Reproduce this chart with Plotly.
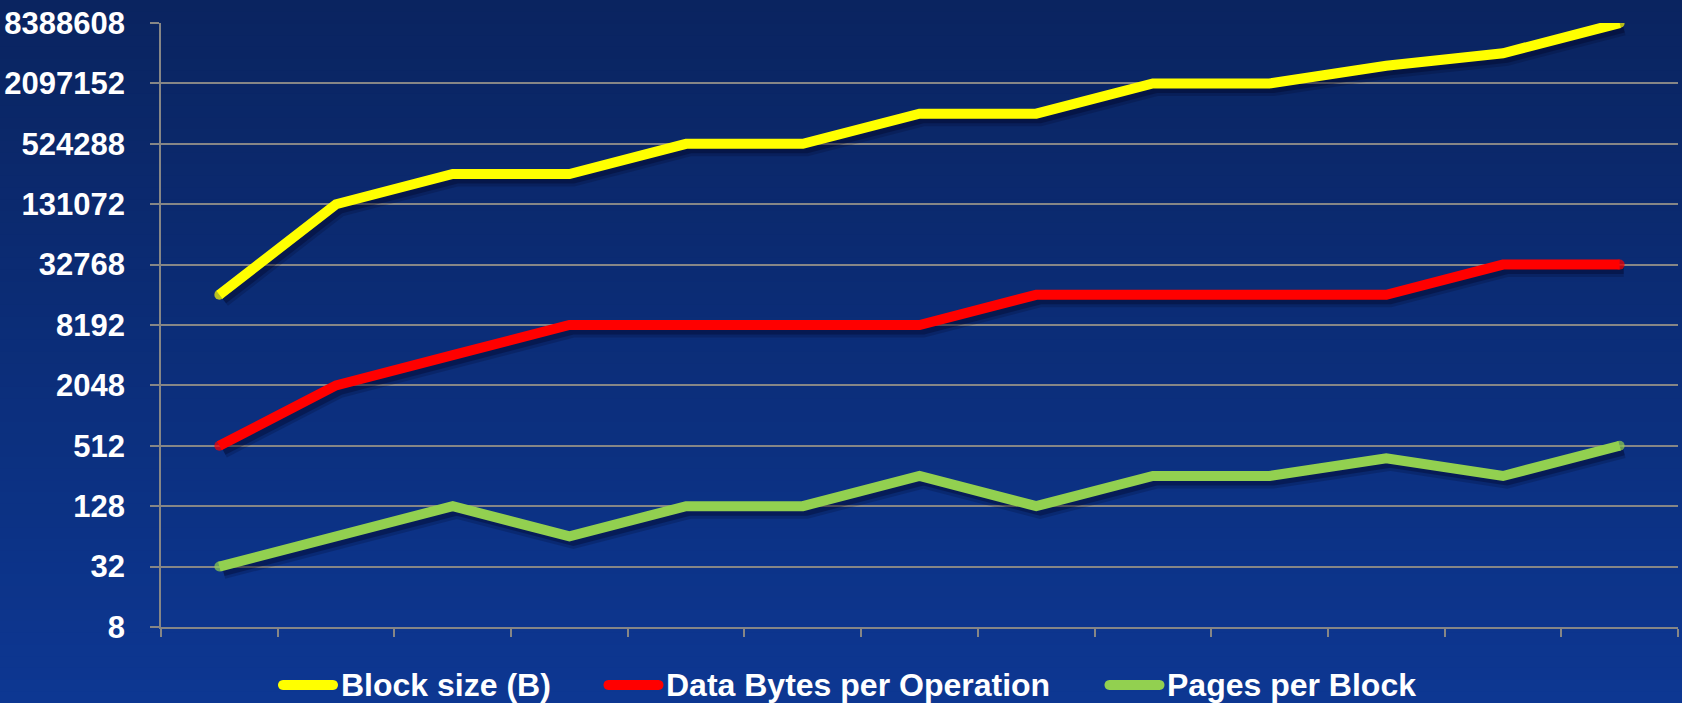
import math
import plotly.graph_objects as go

# ---------------- data ----------------
points = list(range(13))
block_size = [16384, 131072, 262144, 262144, 524288, 524288, 1048576, 1048576,
              2097152, 2097152, 3145728, 4194304, 8388608]
data_bytes = [512, 2048, 4096, 8192, 8192, 8192, 8192, 16384,
              16384, 16384, 16384, 32768, 32768]
pages_per_block = [32, 64, 128, 64, 128, 128, 256, 128, 256, 256, 384, 256, 512]
series_names = ["Block size (B)", "Data Bytes per Operation", "Pages per Block"]
y_tickvals = [8, 32, 128, 512, 2048, 8192, 32768, 131072, 524288, 2097152, 8388608]
y_ticktext = [str(v) for v in y_tickvals]

colors = ["#ffff00", "#ff0000", "#92d050"]
series = [block_size, data_bytes, pages_per_block]

# ---------------- geometry ----------------
FW, FH = 1682, 703
L, R, T, B = 161, 4, 23, 76
PW, PH = FW - L - R, FH - T - B
lo, hi = math.log10(8) - 0.0004, math.log10(8388608) + 0.0004
ppx = PW / 13.0
ppy = PH / (hi - lo)
sdx, sdy = 4, 5  # drop-shadow offset in px

fig = go.Figure()

# drop shadows: same data, shifted a few pixels right/down
for vals in series:
    sx = [p + sdx / ppx for p in points]
    sy = [v * 10 ** (-sdy / ppy) for v in vals]
    fig.add_trace(go.Scatter(x=sx, y=sy, mode="lines",
                             line=dict(color="rgba(0,0,30,0.18)", width=15),
                             hoverinfo="skip", showlegend=False))
    fig.add_trace(go.Scatter(x=sx, y=sy, mode="lines",
                             line=dict(color="rgba(0,0,30,0.30)", width=9),
                             hoverinfo="skip", showlegend=False))

# main lines (round end caps via end markers)
for vals, c, name in zip(series, colors, series_names):
    n = len(vals)
    fig.add_trace(go.Scatter(
        x=points, y=vals, mode="lines+markers", name=name,
        line=dict(color=c, width=10),
        marker=dict(color=c, size=[10] + [0] * (n - 2) + [10], line=dict(width=0)),
        showlegend=False))

# background gradient bands
shapes = []
top_c = (10, 36, 96)
bot_c = (13, 55, 146)
nb = 60
y_top = (FH - B) / PH
y_bot = -B / PH
x_left = -L / PW
x_right = (FW - L) / PW
for i in range(nb):
    f = i / (nb - 1)
    col = tuple(round(top_c[k] + (bot_c[k] - top_c[k]) * f) for k in range(3))
    y1 = y_top - (y_top - y_bot) * i / nb
    y0 = y_top - (y_top - y_bot) * (i + 1) / nb
    shapes.append(dict(type="rect", xref="paper", yref="paper", layer="below",
                       x0=x_left, x1=x_right, y0=y0 - 0.002, y1=y1,
                       fillcolor="rgb(%d,%d,%d)" % col, line=dict(width=0)))

# manual legend
legend_y_px = 685
leg_centers = [308, 633.5, 1134.5]
leg_text_x = [339, 664, 1165]
pill = "M -25,-5 H 25 C 31.7,-5 31.7,5 25,5 H -25 C -31.7,5 -31.7,-5 -25,-5 Z"
annotations = []
for cx, tx, c, name in zip(leg_centers, leg_text_x, colors, series_names):
    shapes.append(dict(type="path", xref="paper", yref="paper",
                       xsizemode="pixel", ysizemode="pixel",
                       xanchor=(cx - L) / PW, yanchor=(FH - B - legend_y_px) / PH,
                       path=pill, fillcolor=c, line=dict(width=0)))
    annotations.append(dict(xref="paper", yref="paper", x=(tx - L) / PW,
                            y=(FH - B - legend_y_px) / PH, xanchor="left", yanchor="middle",
                            text=name, showarrow=False,
                            font=dict(family="Liberation Sans, Arial", size=32, color="white",
                                      weight="bold")))

grid_c = "#868686"
fig.update_layout(
    width=FW, height=FH,
    margin=dict(l=L, r=R, t=T, b=B),
    paper_bgcolor="rgb(13,55,146)",
    plot_bgcolor="rgba(0,0,0,0)",
    shapes=shapes,
    annotations=annotations,
    showlegend=False,
    xaxis=dict(range=[-0.5, 12.5], tickmode="array",
               tickvals=[i - 0.5 for i in range(14)], showticklabels=False,
               ticks="outside", ticklen=8, tickcolor=grid_c, tickwidth=1.5,
               showgrid=False, zeroline=False, showline=True, linecolor=grid_c, linewidth=1.5),
    yaxis=dict(type="log", range=[lo, hi], tickmode="array",
               tickvals=y_tickvals, ticktext=y_ticktext,
               ticks="outside", ticklen=9, tickcolor=grid_c, tickwidth=1.5,
               ticklabelstandoff=19,
               showgrid=True, gridcolor=grid_c, gridwidth=1.5,
               zeroline=False, showline=True, linecolor=grid_c, linewidth=1.5,
               tickfont=dict(family="Liberation Sans, Arial", size=31, color="white",
                             weight="bold")),
)

fig.write_html("out.html", config={"displayModeBar": False},
               post_script="document.body.style.margin='0';document.body.style.overflow='hidden';")
